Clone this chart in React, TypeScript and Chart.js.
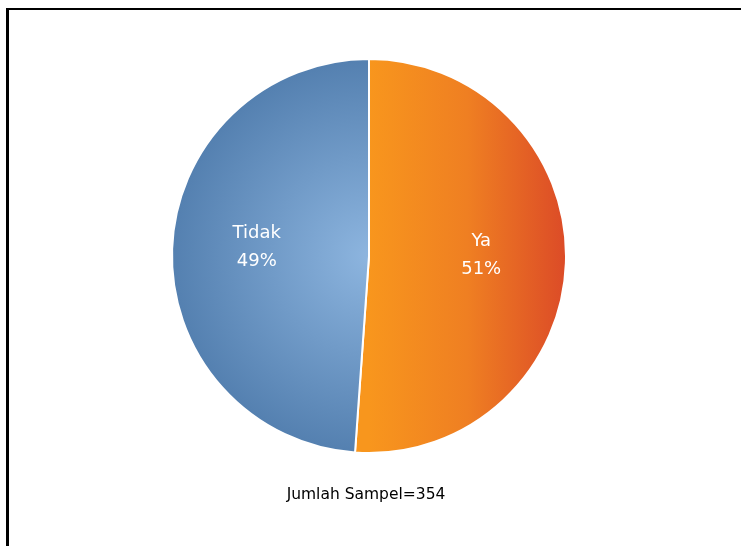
import React, { useEffect, useRef } from "react";
import { Chart, registerables } from "chart.js";

Chart.register(...registerables);

const categories = ["Ya", "Tidak"];
const counts = [181, 173];
const percentLabels = ["51%", "49%"];
const footnote = "Jumlah Sampel=354";

const W = 733;
const H = 538;

export default function App() {
  const ref = useRef<HTMLCanvasElement | null>(null);

  useEffect(() => {
    const canvas = ref.current;
    if (!canvas) return;

    const fillPlugin = {
      id: "gradFill",
      beforeDatasetsDraw(chart: any) {
        const meta = chart.getDatasetMeta(0);
        const arc = meta.data[0];
        if (!arc) return;
        const { x, y, outerRadius } = arc.getProps(["x", "y", "outerRadius"], true);
        const ctx = chart.ctx;
        const lin = ctx.createLinearGradient(x, 0, x + outerRadius, 0);
        lin.addColorStop(0, "#F8961D");
        lin.addColorStop(0.5, "#EF7F22");
        lin.addColorStop(1, "#DC4B27");
        const rad = ctx.createRadialGradient(x, y, 0, x, y, outerRadius);
        rad.addColorStop(0, "#8DB5DF");
        rad.addColorStop(1, "#5480B0");
        meta.data[0].options.backgroundColor = lin;
        meta.data[1].options.backgroundColor = rad;
      },
    };

    const labelPlugin = {
      id: "sliceLabels",
      afterDatasetsDraw(chart: any) {
        const ctx = chart.ctx;
        const meta = chart.getDatasetMeta(0);
        ctx.save();
        ctx.fillStyle = "#FFFFFF";
        ctx.font = "18px 'DejaVu Sans', sans-serif";
        ctx.textAlign = "center";
        ctx.textBaseline = "middle";
        meta.data.forEach((arc: any, i: number) => {
          const { x, y, startAngle, endAngle, outerRadius } = arc.getProps(
            ["x", "y", "startAngle", "endAngle", "outerRadius"],
            true
          );
          const mid = (startAngle + endAngle) / 2;
          const r = outerRadius * 0.57;
          const cx = x + Math.cos(mid) * r;
          const cy = y + Math.sin(mid) * r - 5;
          ctx.fillText(categories[i], cx, cy - 14);
          ctx.fillText(percentLabels[i], cx, cy + 14);
        });
        ctx.fillStyle = "#000000";
        ctx.font = "15.5px 'DejaVu Sans', sans-serif";
        ctx.fillText(footnote, 358, 487);
        ctx.restore();
      },
    };

    const chart = new Chart(canvas, {
      type: "pie",
      data: {
        labels: categories,
        datasets: [
          {
            data: counts,
            backgroundColor: ["#F39020", "#6E98C8"],
            borderColor: "#FFFFFF",
            borderWidth: 2,
            radius: 197,
          },
        ],
      },
      options: {
        responsive: false,
        animation: false,
        layout: { padding: { left: 163, right: 174, top: 50, bottom: 92 } },
        plugins: {
          legend: { display: false },
          tooltip: { enabled: false },
          title: { display: false },
        },
      },
      plugins: [fillPlugin, labelPlugin],
    });

    return () => chart.destroy();
  }, []);

  return (
    <div
      style={{
        position: "fixed",
        left: 0,
        top: 0,
        width: 741,
        height: 546,
        overflow: "hidden",
        background: "#fff",
      }}
    >
      <canvas
        ref={ref}
        width={W}
        height={H}
        style={{ position: "absolute", left: 8, top: 8, width: W, height: H }}
      />
      <div
        style={{
          position: "absolute",
          left: 6,
          top: 8,
          width: 900,
          height: 900,
          borderTop: "2.5px solid #000",
          borderLeft: "3px solid #000",
          pointerEvents: "none",
        }}
      />
    </div>
  );
}
